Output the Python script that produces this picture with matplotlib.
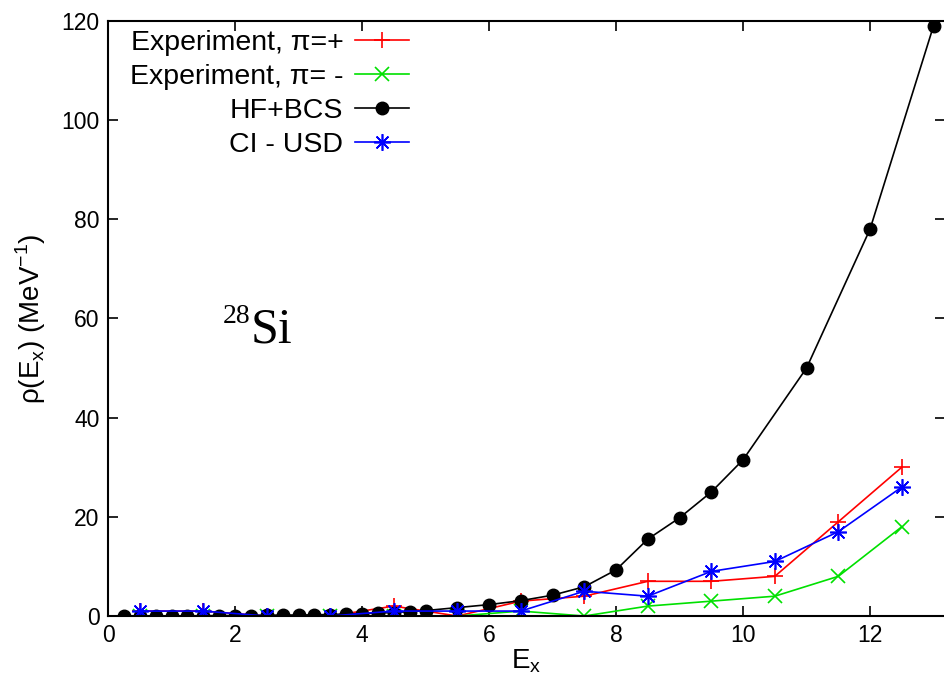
import numpy as np
import matplotlib.pyplot as plt

plt.rcParams['font.family'] = ['Liberation Sans', 'DejaVu Sans']

# experimental level densities (half-MeV bins)
x_exp = [0.5, 1.5, 2.5, 3.5, 4.5, 5.5, 6.5, 7.5, 8.5, 9.5, 10.5, 11.5, 12.5]
rho_pos = [1, 1, 0, 0, 2, 0, 3, 4, 7, 7, 8, 19, 30]
rho_neg = [0, 0, 0, 0, 0, 0, 1, 0, 2, 3, 4, 8, 18]

# HF+BCS
x_hf = [0.25, 0.5, 0.75, 1.0, 1.25, 1.5, 1.75, 2.0, 2.25, 2.5, 2.75, 3.0, 3.25,
        3.5, 3.75, 4.0, 4.25, 4.5, 4.75, 5.0, 5.5, 6.0, 6.5, 7.0, 7.5, 8.0,
        8.5, 9.0, 9.5, 10.0, 11.0, 12.0, 13.0]
rho_hf = [0.0, 0.0, 0.0, 0.0, 0.05, 0.05, 0.1, 0.1, 0.1, 0.15, 0.2, 0.2, 0.25,
          0.3, 0.4, 0.5, 0.6, 0.7, 0.9, 1.1, 1.7, 2.3, 3.1, 4.2, 5.9, 9.3,
          15.5, 19.8, 25.0, 31.5, 50.0, 78.0, 119.0]

# shell model CI - USD
rho_ci = [1, 1, 0, 0, 1, 1, 1, 5, 4, 9, 11, 17, 26]

fig = plt.figure(figsize=(9.45, 6.78), dpi=100)
ax = fig.add_axes([0.1143, 0.0914, 0.8857, 0.878])

ax.plot(x_exp, rho_pos, color='#ff0000', lw=1.2, marker='+', ms=12, mew=1.2,
        label='Experiment, π=+')
ax.plot(x_exp, rho_neg, color='#00e000', lw=1.2, marker='x', ms=10, mew=1.2,
        label='Experiment, π= -')
ax.plot(x_hf, rho_hf, color='black', lw=1.2, marker='o', ms=9,
        label='HF+BCS')
ax.plot(x_exp, rho_ci, color='#0000ff', lw=1.2, marker=(8, 2, 0), ms=12, mew=1.2,
        label='CI - USD')

ax.set_xlim(0, 13.18)
ax.set_ylim(0, 120)
ax.set_xticks([0, 2, 4, 6, 8, 10, 12])
ax.set_yticks([0, 20, 40, 60, 80, 100, 120])
ax.tick_params(direction='in', length=7, width=1.2, labelsize=16.5,
               top=True, right=True, pad=6)
for s in ax.spines.values():
    s.set_linewidth(1.5)
ax.spines['right'].set_visible(False)

ax.set_xlabel(r'E$_\mathregular{x}$', fontsize=20, labelpad=0)
ax.set_ylabel(r'ρ(E$_\mathregular{x}$) (MeV$^\mathregular{-1}$)', fontsize=20, labelpad=10)

# nucleus label
ax.text(0.170, 0.459, 'Si', transform=ax.transAxes, ha='left', va='baseline',
        fontsize=36, family='Liberation Serif')
ax.text(0.170, 0.492, '28', transform=ax.transAxes, ha='right', va='baseline',
        fontsize=20, family='Liberation Serif')

leg = ax.legend(loc='upper left', bbox_to_anchor=(0.026, 0.985), frameon=False,
                markerfirst=False, fontsize=20.5, handlelength=1.9,
                handletextpad=0.4, labelspacing=0.28, borderaxespad=0,
                borderpad=0)
for col in leg._legend_handle_box.get_children():
    col.align = 'right'

fig.savefig('out.png', dpi=100)
